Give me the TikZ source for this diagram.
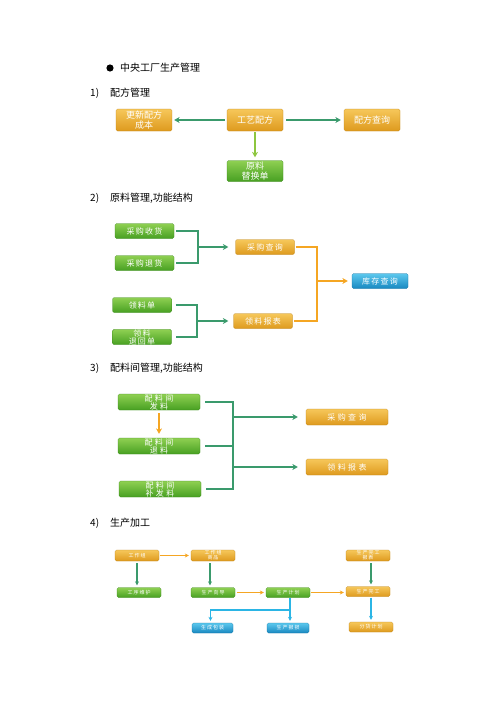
\documentclass[tikz,border=0pt]{standalone}
\usepackage{fontspec}
\setmainfont{Noto Sans CJK SC}
\usetikzlibrary{arrows.meta}

\definecolor{goldtop}{HTML}{F6C75A}
\definecolor{goldbot}{HTML}{DE9A1E}
\definecolor{greentop}{HTML}{8FD052}
\definecolor{greenbot}{HTML}{47A022}
\definecolor{bluetop}{HTML}{5CC8EE}
\definecolor{bluebot}{HTML}{1888C0}
\definecolor{tealline}{HTML}{3A9A6C}
\definecolor{orangeline}{HTML}{F5A623}
\definecolor{limeline}{HTML}{8DC63F}
\definecolor{cyanline}{HTML}{2BB5E5}

\tikzset{
  box/.style={rounded corners=1.5pt, inner sep=0pt, align=center, text=white},
  orangebox/.style={box, top color=goldtop, bottom color=goldbot, draw=goldbot!85!black, line width=0.3pt},
  greenbox/.style={box, top color=greentop, bottom color=greenbot, draw=greenbot!85!black, line width=0.3pt},
  bluebox/.style={box, top color=bluetop, bottom color=bluebot, draw=bluebot!85!black, line width=0.3pt},
  headlabel/.style={anchor=west, font=\fontsize{10}{10}\selectfont, inner sep=0pt},
  link/.style={line width=1.8pt},
  tip/.style={-{Stealth[length=5.5pt,width=6pt]}},
  thinlink/.style={line width=1.1pt},
  thintip/.style={-{Stealth[length=4pt,width=4pt]}}
}

\begin{document}
\begin{tikzpicture}[x=1pt, y=-1pt]
\useasboundingbox (0,0) rectangle (500,707);

% headings
\fill (110,68) circle (3.6pt);
\node[headlabel] at (120,68) {中央工厂生产管理};
\foreach \i/\y/\t in {1/93/{配方管理}, 2/198/{原料管理,功能结构}, 3/368/{配料间管理,功能结构}, 4/523/{生产加工}}
  \node[headlabel, name=head-\i] at (90,\y) {\i)\hspace{11pt}\t};

% 1) recipes
\begin{scope}[every node/.append style={minimum width=56pt, font=\fontsize{9}{9.5}\selectfont}]
\node[orangebox, minimum height=22pt] (gxpf) at (255,120) {工艺配方};
\node[orangebox, minimum height=22pt] (gxcb) at (144,120) {更新配方\\成本};
\node[orangebox, minimum height=22pt] (pfcx) at (372,120) {配方查询};
\node[greenbox, minimum height=21pt] (ylth) at (255,171) {原料\\替换单};
\end{scope}
\draw[link, tip, tealline, shorten <=2pt, shorten >=2pt] (gxpf.west) -- (gxcb.east);
\draw[link, tip, tealline, shorten <=3pt, shorten >=3pt] (gxpf.east) -- (pfcx.west);
\draw[link, tip, limeline, shorten <=1pt, shorten >=3pt] (gxpf.south) -- (ylth.north);

% 2) raw materials
\begin{scope}[every node/.append style={minimum width=59pt, minimum height=15pt,
    font=\fontsize{8}{8}\selectfont\addfontfeature{LetterSpace=15}}]
\node[greenbox] (cgsh) at (144.5,231) {采购收货};
\node[greenbox] (cgth) at (144.5,263) {采购退货};
\node[greenbox] (lld)  at (142,305) {领料单};
\node[greenbox] (llth) at (142,337) {领料\\退回单};
\node[orangebox] (cgcx) at (265,247) {采购查询};
\node[orangebox] (llbb) at (263,321) {领料报表};
\node[bluebox, minimum width=56pt] (kccx) at (380,281) {库存查询};
\end{scope}
\coordinate (j1) at (198,247);
\coordinate (j2) at (197,321);
\coordinate (j3) at (317,281);
\draw[link, tealline] ([xshift=2pt]cgsh.east) -| (j1 |- cgth.east) -- ([xshift=2pt]cgth.east);
\draw[link, tealline, tip, shorten >=7pt] (j1) -- (cgcx.west);
\draw[link, tealline] ([xshift=4pt]lld.east) -| (j2 |- llth.east) -- ([xshift=4pt]llth.east);
\draw[link, tealline, tip, shorten >=5pt] (j2) -- (llbb.west);
\draw[link, orangeline] ([xshift=1pt]cgcx.east) -| (j3 |- llbb.east) -- ([xshift=1pt]llbb.east);
\draw[link, orangeline, tip, shorten >=4pt] (j3) -- (kccx.west);

% 3) batching room
\begin{scope}[every node/.append style={minimum width=82pt, minimum height=16pt,
    font=\fontsize{8}{8}\selectfont\addfontfeature{LetterSpace=30}}]
\node[greenbox] (pfl)  at (159,402) {配料间\\发料};
\node[greenbox] (ptl)  at (159,446) {配料间\\退料};
\node[greenbox] (pbfl) at (160,489) {配料间\\补发料};
\node[orangebox] (cgcx3) at (347,417) {采购查询};
\node[orangebox] (llbb3) at (347,467) {领料报表};
\end{scope}
\coordinate (j4) at (233,402);
\draw[link, tealline] ([xshift=5pt]pfl.east) -| (j4 |- pbfl.east) -- ([xshift=5pt]pbfl.east);
\draw[link, tealline] ([xshift=5pt]ptl.east) -- ([xshift=0.9pt]j4 |- ptl.east);
\draw[link, tealline, tip, shorten >=8pt] (j4 |- cgcx3.west) -- (cgcx3.west);
\draw[link, tealline, tip, shorten >=8pt] (j4 |- llbb3.west) -- (llbb3.west);
\draw[link, orangeline, tip, shorten <=3pt, shorten >=4pt] (pfl.south) -- (ptl.north);

% 4) production
\begin{scope}[every node/.append style={minimum width=44pt, minimum height=10pt,
    font=\fontsize{5}{5}\selectfont\addfontfeature{LetterSpace=20}}]
\node[orangebox, minimum height=11pt] (gzz)  at (137,555.5) {工作组};
\node[orangebox, minimum height=11pt] (gzsp) at (213,555.5) {工作组\\商品};
\node[orangebox, minimum height=11pt] (wgbb) at (368,555.5) {生产完工\\报表};
\node[greenbox] (gxwh) at (139,592.5) {工序维护};
\node[greenbox] (scxd) at (213,592.5) {生产向导};
\node[greenbox] (scjh) at (288,592.5) {生产计划};
\node[orangebox] (scwg) at (368,591.5) {生产完工};
\node[bluebox, minimum width=41pt] (scbz) at (212.5,628) {生成包装};
\node[bluebox, minimum width=42pt] (scbs) at (288,628) {生产报损};
\node[orangebox] (fhjh) at (371,627) {分货计划};
\end{scope}
\coordinate (j5) at (290,610);
\draw[thinlink, thintip, orangeline, shorten <=1pt, shorten >=2pt] (gzz.east) -- (gzsp.west);
\draw[thinlink, thintip, tealline, shorten <=2pt, shorten >=2pt] (gzz.south) -- (gzz.south |- gxwh.north);
\draw[thinlink, thintip, tealline, shorten <=2pt, shorten >=2pt] ([xshift=-3pt]gzsp.south) -- ([xshift=-3pt]gzsp.south |- scxd.north);
\draw[thinlink, thintip, orangeline, shorten <=2pt, shorten >=2pt] (scxd.east) -- (scjh.west);
\draw[thinlink, thintip, orangeline, shorten <=1pt, shorten >=2pt] (scjh.east) -- (scjh.east -| scwg.west);
\draw[thinlink, thintip, tealline, shorten <=2pt, shorten >=2pt] ([xshift=3pt]wgbb.south) -- ([xshift=3pt]wgbb.south |- scwg.north);
\draw[thinlink, thintip, cyanline, shorten <=1pt, shorten >=2pt] ([xshift=3pt]scwg.south) -- ([xshift=3pt]scwg.south |- fhjh.north);
\draw[thinlink, thintip, cyanline, shorten >=2pt] (j5 |- scjh.south) -- (j5 |- scbs.north);
\draw[thinlink, thintip, cyanline, shorten >=2pt] (j5) -| ([xshift=-2pt]scbz.north);
\end{tikzpicture}
\end{document}
